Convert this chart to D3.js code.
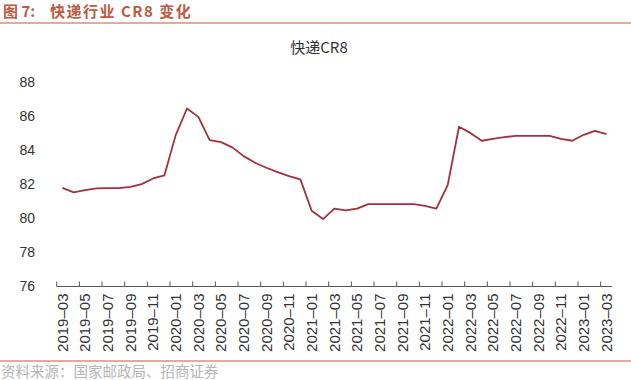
<!DOCTYPE html>
<html>
<head>
<meta charset="utf-8">
<script src="https://cdn.jsdelivr.net/npm/d3@7"></script>
<style>
  body { margin: 0; background: #fff; }
  svg { display: block; font-family: "Liberation Sans", Arial, sans-serif; }
  .cjk { font-family: "Noto Sans CJK SC", sans-serif; }
</style>
</head>
<body>
<div id="chart"></div>
<script>
// month categories (2019-03 .. 2023-03)
var months = [
  "2019-03","2019-04","2019-05","2019-06","2019-07","2019-08","2019-09","2019-10","2019-11","2019-12",
  "2020-01","2020-02","2020-03","2020-04","2020-05","2020-06","2020-07","2020-08","2020-09","2020-10","2020-11","2020-12",
  "2021-01","2021-02","2021-03","2021-04","2021-05","2021-06","2021-07","2021-08","2021-09","2021-10","2021-11","2021-12",
  "2022-01","2022-02","2022-03","2022-04","2022-05","2022-06","2022-07","2022-08","2022-09","2022-10","2022-11","2022-12",
  "2023-01","2023-02","2023-03"
];

// CR8 values
var cr8 = [
  81.78, 81.52, 81.65, 81.75, 81.77, 81.77, 81.84, 82.0, 82.33, 82.51,
  84.87, 86.43, 85.94, 84.58, 84.46, 84.15, 83.64, 83.25, 82.96, 82.7, 82.47, 82.28,
  80.44, 79.95, 80.56, 80.46, 80.56, 80.83, 80.83, 80.83, 80.83, 80.83, 80.73, 80.56,
  81.94, 85.36, 85.0, 84.54, 84.65, 84.75, 84.83, 84.83, 84.83, 84.83, 84.65, 84.54,
  84.89, 85.12, 84.93
];

var yTicks = [76, 78, 80, 82, 84, 86, 88];

var W = 631, H = 380;
var plot = { left: 56.7, right: 612, top: 81.7, bottom: 286.5 };

var svg = d3.select("#chart").append("svg")
  .attr("width", W)
  .attr("height", H);

// header
svg.append("text")
  .attr("class", "cjk")
  .attr("x", 3).attr("y", 17)
  .attr("fill", "#bd5a43")
  .style("font-size", "15px")
  .style("font-weight", "bold")
  .text("图 7:");
svg.append("text")
  .attr("class", "cjk")
  .attr("x", 50).attr("y", 17)
  .attr("fill", "#bd5a43")
  .style("font-size", "15px")
  .style("font-weight", "bold")
  .style("letter-spacing", "1.5px")
  .text("快递行业 CR8 变化");
svg.append("line")
  .attr("x1", 0).attr("x2", W)
  .attr("y1", 23).attr("y2", 23)
  .attr("stroke", "#d98f7a")
  .attr("stroke-width", 1.5);

// chart title
svg.append("text")
  .attr("class", "cjk")
  .attr("x", 319).attr("y", 53)
  .attr("text-anchor", "middle")
  .attr("fill", "#333")
  .style("font-size", "15px")
  .text("快递CR8");

var x = d3.scaleBand()
  .domain(months)
  .range([plot.left, plot.right]);

var y = d3.scaleLinear()
  .domain([76, 88])
  .range([plot.bottom, plot.top]);

// y labels
svg.append("g")
  .selectAll("text")
  .data(yTicks)
  .enter().append("text")
  .attr("x", 35)
  .attr("y", function(d) { return y(d); })
  .attr("dy", "0.35em")
  .attr("text-anchor", "end")
  .attr("fill", "#333")
  .style("font-size", "14px")
  .text(function(d) { return d; });

// x axis, ticks sit on the left edge of every other month
var labelled = months.filter(function(d, i) { return i % 2 == 0; });

var gx = svg.append("g");
gx.append("line")
  .attr("x1", plot.left).attr("x2", plot.right)
  .attr("y1", plot.bottom).attr("y2", plot.bottom)
  .attr("stroke", "#555")
  .attr("stroke-width", 1);

gx.selectAll(".tick")
  .data(labelled)
  .enter().append("line")
  .attr("class", "tick")
  .attr("x1", function(d) { return x(d); })
  .attr("x2", function(d) { return x(d); })
  .attr("y1", plot.bottom)
  .attr("y2", plot.bottom - 5)
  .attr("stroke", "#555");

gx.selectAll(".lbl")
  .data(labelled)
  .enter().append("text")
  .attr("class", "lbl")
  .attr("transform", function(d) {
    return "translate(" + (x(d) + x.bandwidth() / 2) + "," + (plot.bottom + 7) + ") rotate(-90)";
  })
  .attr("dy", "0.35em")
  .attr("text-anchor", "end")
  .attr("fill", "#333")
  .style("font-size", "15px")
  .text(function(d) { return d.replace("-", "\u2013"); });

// line
var line = d3.line()
  .x(function(d, i) { return x(months[i]) + x.bandwidth() / 2; })
  .y(function(d) { return y(d); });

svg.append("path")
  .datum(cr8)
  .attr("fill", "none")
  .attr("stroke", "#a3303b")
  .attr("stroke-width", 1.8)
  .attr("stroke-linejoin", "round")
  .attr("d", line);

// footer
svg.append("line")
  .attr("x1", 0).attr("x2", W)
  .attr("y1", 361).attr("y2", 361)
  .attr("stroke", "#d98f7a")
  .attr("stroke-width", 1.5);
svg.append("text")
  .attr("class", "cjk")
  .attr("x", 1).attr("y", 377)
  .attr("fill", "#b5b5b5")
  .style("font-size", "14.5px")
  .text("资料来源：国家邮政局、招商证券");
</script>
</body>
</html>
